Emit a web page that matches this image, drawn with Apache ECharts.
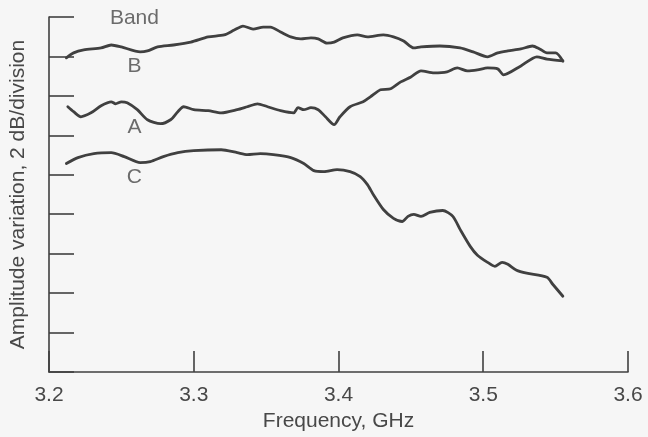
<!DOCTYPE html>
<html>
<head>
<meta charset="utf-8">
<script src="https://cdn.jsdelivr.net/npm/echarts@6/dist/echarts.min.js"></script>
<style>
html,body{margin:0;padding:0;background:#f6f6f6;}
#chart{width:648px;height:437px;}
</style>
</head>
<body>
<div id="chart"></div>
<script>
// Frequency (GHz) / amplitude (dB, 2 dB per division) traces
var bandB = [
[3.212,15.93],[3.217,16.18],[3.224,16.33],[3.236,16.43],[3.243,16.58],[3.250,16.48],
[3.263,16.23],[3.268,16.28],[3.275,16.48],[3.286,16.58],[3.298,16.73],[3.310,16.99],
[3.321,17.09],[3.328,17.34],[3.334,17.54],[3.341,17.39],[3.348,17.49],[3.353,17.49],
[3.360,17.24],[3.367,16.99],[3.374,16.89],[3.381,16.94],[3.386,16.89],[3.392,16.68],
[3.397,16.73],[3.403,16.94],[3.413,17.09],[3.420,16.99],[3.431,17.09],[3.438,16.99],
[3.445,16.78],[3.452,16.43],[3.457,16.48],[3.470,16.53],[3.484,16.43],[3.493,16.23],
[3.503,15.98],[3.510,16.18],[3.517,16.28],[3.526,16.38],[3.534,16.53],[3.539,16.38],
[3.544,16.18],[3.550,16.18],[3.555,15.77]
];
var bandA = [
[3.213,13.45],[3.217,13.20],[3.222,12.94],[3.229,13.14],[3.236,13.50],[3.243,13.70],
[3.246,13.60],[3.250,13.70],[3.254,13.65],[3.261,13.30],[3.268,12.79],[3.277,12.59],
[3.284,12.79],[3.289,13.20],[3.293,13.45],[3.300,13.30],[3.310,13.25],[3.319,13.14],
[3.330,13.30],[3.337,13.45],[3.344,13.60],[3.351,13.45],[3.360,13.25],[3.369,13.14],
[3.372,13.40],[3.376,13.30],[3.381,13.40],[3.386,13.30],[3.391,12.94],[3.397,12.54],
[3.401,12.94],[3.408,13.45],[3.417,13.70],[3.422,13.95],[3.429,14.31],[3.436,14.36],
[3.443,14.71],[3.450,14.96],[3.457,15.27],[3.466,15.17],[3.475,15.22],[3.482,15.42],
[3.489,15.27],[3.496,15.32],[3.503,15.42],[3.510,15.37],[3.514,15.07],[3.526,15.52],
[3.537,15.98],[3.544,15.87],[3.555,15.77]
];
var bandC = [
[3.212,10.57],[3.220,10.87],[3.231,11.07],[3.243,11.12],[3.252,10.92],[3.263,10.62],
[3.270,10.67],[3.279,10.92],[3.289,11.12],[3.300,11.22],[3.319,11.27],[3.330,11.12],
[3.337,11.02],[3.346,11.07],[3.355,11.02],[3.367,10.87],[3.376,10.57],[3.383,10.21],
[3.390,10.16],[3.399,10.26],[3.408,10.16],[3.415,9.91],[3.420,9.50],[3.424,9.00],
[3.431,8.24],[3.438,7.79],[3.444,7.63],[3.448,7.89],[3.452,7.99],[3.457,7.89],
[3.463,8.09],[3.472,8.19],[3.479,7.89],[3.484,7.23],[3.491,6.37],[3.496,5.92],
[3.503,5.56],[3.508,5.36],[3.513,5.56],[3.517,5.46],[3.523,5.16],[3.530,5.01],
[3.544,4.80],[3.548,4.45],[3.555,3.84]
];
var annotationTexts = ['Band','B','A','C'];
var annotationPos = [[3.259,17.95],[3.259,15.52],[3.259,12.39],[3.259,9.86]];
var xTicks = [3.2,3.3,3.4,3.5,3.6];

var FONT = '"Liberation Sans", Arial, Helvetica, sans-serif';
var INK = '#404040';
var TXT = '#484848';

var chart = echarts.init(document.getElementById('chart'), null, {renderer:'canvas'});

function lineSeries(name, data){
  return {
    name:name, type:'line', data:data, smooth:0.25, showSymbol:false, symbol:'none',
    lineStyle:{color:INK, width:2.8, cap:'round', join:'round'}, silent:true, z:3
  };
}

var annData = annotationTexts.map(function(t,i){
  return {name:t, value:annotationPos[i]};
});

chart.setOption({
  backgroundColor:'#f6f6f6',
  animation:false,
  grid:{left:48, right:20, top:17, bottom:64, containLabel:false},
  xAxis:{
    type:'value', min:3.2, max:3.6, interval:0.1,
    name:'Frequency, GHz', nameLocation:'middle', nameGap:39,
    nameTextStyle:{fontFamily:FONT, fontSize:21, color:TXT},
    axisLine:{show:true, lineStyle:{color:INK, width:1.6}},
    axisTick:{show:true, inside:true, length:21, lineStyle:{color:INK, width:1.6}},
    axisLabel:{margin:13, fontFamily:FONT, fontSize:21, color:TXT,
      formatter:function(v){ return v.toFixed(1); }},
    splitLine:{show:false}
  },
  yAxis:{
    type:'value', min:0, max:18, interval:2,
    name:'Amplitude variation, 2 dB/division', nameLocation:'middle', nameGap:20,
    nameTextStyle:{fontFamily:FONT, fontSize:21, color:TXT},
    axisLine:{show:true, lineStyle:{color:INK, width:1.6}},
    axisTick:{show:true, inside:true, length:25, lineStyle:{color:INK, width:1.6}},
    axisLabel:{show:false},
    splitLine:{show:false}
  },
  series:[
    lineSeries('B', bandB),
    lineSeries('A', bandA),
    lineSeries('C', bandC),
    {
      type:'scatter', data:annData, symbolSize:0, silent:true,
      label:{show:true, position:'inside', formatter:'{b}',
        fontFamily:FONT, fontSize:21, color:TXT}
    }
  ]
});
</script>
</body>
</html>
